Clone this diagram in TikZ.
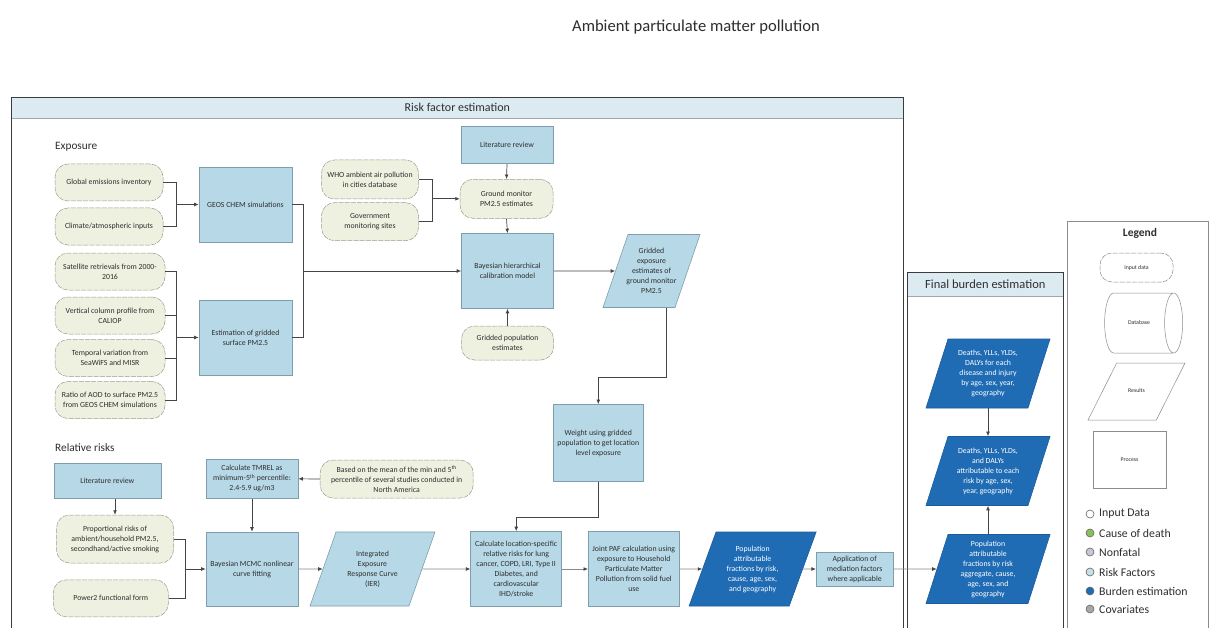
\documentclass[tikz,border=0pt]{standalone}
\usepackage{fontspec}
\setmainfont{Carlito}
\usetikzlibrary{shapes.geometric,shapes.misc,arrows.meta}

\definecolor{procfill}{HTML}{B7D9E7}
\definecolor{procline}{HTML}{7F9EAB}
\definecolor{infill}{HTML}{EEF0E0}
\definecolor{inline}{HTML}{9C9C90}
\definecolor{resfill}{HTML}{1F6CB5}
\definecolor{resline}{HTML}{1A5C9C}
\definecolor{headfill}{HTML}{DCEBF2}
\definecolor{headline}{HTML}{A0A8AC}
\definecolor{framecol}{HTML}{3C3C3C}
\definecolor{linkdark}{HTML}{454545}
\definecolor{linkgray}{HTML}{8A8A8A}
\definecolor{legline}{HTML}{8C8C8C}
\definecolor{textcol}{HTML}{2E2E2E}

% fixed-height text block for the slanted result shapes; lines may run past the box width
\newcommand{\parabody}[3]{\parbox[c][#1][c]{#2}{\centering\makebox[#2]{\begin{tabular}{@{}c@{}}#3\end{tabular}}}}

\tikzset{
  txt/.style={font=\fontsize{7.8}{10}\selectfont, align=center, inner sep=1pt, text=textcol},
  procbox/.style={txt, rectangle, draw=procline, fill=procfill, line width=0.6pt},
  inbox/.style={txt, rectangle, rounded corners=13pt, draw=inline, fill=infill, line width=0.5pt, dash pattern=on 5pt off 1.2pt},
  resbox/.style={font=\fontsize{7.8}{10}\selectfont, inner sep=0pt, text=textcol, trapezium, trapezium stretches body, trapezium left angle=#1, trapezium right angle={180-#1}, draw=procline, fill=procfill, line width=0.6pt},
  burden/.style={resbox=#1, draw=resline, fill=resfill, text=white},
  link/.style={draw=linkdark, line width=0.7pt},
  flow/.style={link, -{Latex[length=4.5pt,width=3.8pt,color=linkdark]}},
  grayflow/.style={flow, draw=linkgray},
  framedraw/.style={draw=framecol, line width=0.9pt},
  header/.style={rectangle, draw=headline, fill=headfill, line width=0.6pt, inner sep=0pt, text=textcol},
  sectitle/.style={font=\fontsize{11.3}{13}\selectfont, text=textcol, anchor=west, inner sep=0pt},
  legshape/.style={font=\fontsize{5.8}{7}\selectfont, draw=legline, fill=white, line width=0.5pt, inner sep=0pt, text=textcol},
  dot/.style={circle, minimum size=8pt, inner sep=0pt, draw=black!60, line width=0.6pt},
  legitem/.style={font=\fontsize{11.8}{13}\selectfont, text=textcol, anchor=west, inner sep=0pt},
}

\begin{document}
\begin{tikzpicture}[x=1pt, y=-1pt]
\useasboundingbox (0,0) rectangle (1214,628);
\fill[white] (0,0) rectangle (1214,628);

% title
\node[font=\fontsize{16.6}{18}\selectfont, text=textcol] (title) at (696,27) {Ambient particulate matter pollution};

% ---------- frames ----------
\node[header, font=\fontsize{12}{14}\selectfont, minimum width=892pt, minimum height=21pt, anchor=north west] (rfhead) at (11,97) {Risk factor estimation};
\draw[framedraw] (11,628) -- (11,97) -- (903,97) -- (903,628);

\node[header, font=\fontsize{12.5}{14}\selectfont, minimum width=156pt, minimum height=24pt, anchor=north west] (fbhead) at (907,272) {Final burden estimation};
\draw[framedraw] (907,628) -- (907,272) -- (1063,272) -- (1063,628);

\draw[draw=legline, line width=0.7pt] (1067,628) -- (1067,221) -- (1208,221) -- (1208,628);

% ---------- exposure ----------
\node[sectitle] (expo) at (55,147) {Exposure};

\node[inbox, minimum width=108pt, minimum height=37pt] (glob) at (109,182.5) {Global emissions inventory};
\node[inbox, minimum width=108pt, minimum height=37pt] (clim) at (109,226.5) {Climate/atmospheric inputs};
\node[procbox, minimum width=93pt, minimum height=75pt] (geos) at (245.5,204.5) {GEOS CHEM simulations};

\node[inbox, minimum width=110pt, minimum height=37pt] (sat) at (110,271.5) {Satellite retrievals from 2000-\\2016};
\node[inbox, minimum width=110pt, minimum height=37pt] (vcp) at (110,315.5) {Vertical column profile from\\CALIOP};
\node[inbox, minimum width=110pt, minimum height=37pt] (tv) at (110,358) {Temporal variation from\\SeaWiFS and MISR};
\node[inbox, minimum width=110pt, minimum height=37pt] (aod) at (110,400) {Ratio of AOD to surface PM2.5\\from GEOS CHEM simulations};
\node[procbox, minimum width=93pt, minimum height=75pt] (est) at (245.5,337.5) {Estimation of gridded\\surface PM2.5};

\node[inbox, minimum width=97pt, minimum height=39pt] (who) at (370,179.5) {WHO ambient air pollution\\in cities database};
\node[inbox, minimum width=97pt, minimum height=38pt] (gov) at (370,221.7) {Government\\monitoring sites};

\node[procbox, minimum width=92pt, minimum height=37pt] (lit1) at (507,145.3) {Literature review};
\node[inbox, minimum width=93pt, minimum height=39pt] (gm) at (506.5,198.8) {Ground monitor\\PM2.5 estimates};
\node[procbox, minimum width=92pt, minimum height=75pt] (bayes) at (507.5,271) {Bayesian hierarchical\\calibration model};
\node[inbox, minimum width=92pt, minimum height=34pt] (gpop) at (507.5,343) {Gridded population\\estimates};
\node[resbox=71.1, minimum width=97pt] (ger) at (651.5,271) {\parabody{73pt}{46pt}{Gridded\\exposure\\estimates of\\ground monitor\\PM2.5}};
\node[procbox, minimum width=90pt, minimum height=77pt] (wt) at (598.3,443) {Weight using gridded\\population to get location\\level exposure};

% ---------- relative risks ----------
\node[sectitle] (rr) at (55,448) {Relative risks};

\node[procbox, minimum width=107pt, minimum height=35pt] (litr) at (107.3,480.8) {Literature review};
\node[inbox, minimum width=117pt, minimum height=48pt] (prop) at (115,539) {Proportional risks of\\ambient/household PM2.5,\\secondhand/active smoking};
\node[inbox, minimum width=115pt, minimum height=37pt] (pow) at (110.8,598.3) {Power2 functional form};
\node[procbox, minimum width=92pt, minimum height=39pt] (tmrel) at (252,478.8) {Calculate TMREL as\\minimum-5\textsuperscript{th} percentile:\\2.4-5.9 ug/m3};
\node[inbox, minimum width=153pt, minimum height=38pt] (based) at (396.7,479) {Based on the mean of the min and 5\textsuperscript{th}\\percentile of several studies conducted in\\North America};
\node[procbox, minimum width=92pt, minimum height=74pt] (mcmc) at (252,569) {Bayesian MCMC nonlinear\\curve fitting};
\node[resbox=70.6, minimum width=125pt] (ier) at (372.5,569) {\parabody{74pt}{60pt}{Integrated\\Exposure\\Response Curve\\(IER)}};
\node[procbox, minimum width=91pt, minimum height=75pt] (cl) at (516.2,569) {Calculate location-specific\\relative risks for lung\\cancer, COPD, LRI, Type II\\Diabetes, and\\cardiovascular\\IHD/stroke};
\node[procbox, minimum width=91pt, minimum height=75pt] (jp) at (633.8,569) {Joint PAF calculation using\\exposure to Household\\Particulate Matter\\Pollution from solid fuel\\use};
\node[burden=70, minimum width=127pt] (paf) at (752.6,569) {\parabody{74pt}{62pt}{Population\\attributable\\fractions by risk,\\cause, age, sex,\\and geography}};
\node[procbox, minimum width=77pt, minimum height=34pt] (app) at (854.7,569) {Application of\\mediation factors\\where applicable};

% ---------- final burden ----------
\node[burden=72.3, minimum width=124pt] (fb1) at (988,373.5) {\parabody{69pt}{70pt}{Deaths, YLLs, YLDs,\\DALYs for each\\disease and injury\\by age, sex, year,\\geography}};
\node[burden=72.3, minimum width=124pt] (fb2) at (988,471) {\parabody{69pt}{70pt}{Deaths, YLLs, YLDs,\\and DALYs\\attributable to each\\risk by age, sex,\\year, geography}};
\node[burden=72.3, minimum width=124pt] (fb3) at (988,569) {\parabody{69pt}{70pt}{Population\\attributable\\fractions by risk\\aggregate, cause,\\age, sex, and\\geography}};

% ---------- connectors ----------
\coordinate (jA) at (176,204.5);
\draw[link] (glob.east) -| (jA);
\draw[link] (clim.east) -| (jA);
\draw[flow] (jA) -- (geos.west);

\coordinate (jB) at (176,337.5);
\draw[link] (sat.east) -| (jB);
\draw[link] (vcp.east) -| (jB);
\draw[link] (tv.east) -| (jB);
\draw[link] (aod.east) -| (jB);
\draw[flow] (jB) -- (est.west);

\coordinate (jC) at (303,271);
\draw[link] (geos.east) -| (jC);
\draw[link] (est.east) -| (jC);
\draw[flow] (jC) -- (bayes.west);

\coordinate (jD) at (432.7,198.8);
\draw[link] (who.east) -| (jD);
\draw[link] (gov.east) -| (jD);
\draw[flow] (jD) -- (gm.west);

\draw[flow] (lit1.south) -- (gm.north);
\draw[flow] (gm.south) -- (bayes.north);
\draw[flow] (gpop.north) -- (bayes.south);
\draw[flow] (bayes.east) -- (ger.west);

\coordinate (gerx) at (666.7,377.7);
\draw[flow] (ger.south -| gerx) -- (gerx) -| (wt.north);
\coordinate (wtx) at (599,517.7);
\draw[flow] (wt.south) -- (wt.south |- wtx) -| (cl.north);

\draw[flow] (litr.south -| prop.north) -- (prop.north);
\coordinate (jE) at (185,569);
\draw[link] (prop.east) -| (jE);
\draw[link] (pow.east) -| (jE);
\draw[flow] (jE) -- (mcmc.west);
\draw[flow] (based.west) -- (tmrel.east);
\draw[flow] (tmrel.south) -- (mcmc.north);

\draw[grayflow] (mcmc.east) -- (ier.west);
\draw[grayflow] (ier.east) -- (cl.west);
\draw[grayflow] (cl.east) -- (jp.west);
\draw[grayflow] (jp.east) -- (paf.west);
\draw[grayflow] (paf.east) -- (app.west);
\draw[grayflow] (app.east) -- (fb3.west);

\draw[flow] (fb1.south -| fb1.center) -- (fb2.north -| fb1.center);
\draw[flow] (fb3.north -| fb3.center) -- (fb2.south -| fb3.center);

% ---------- legend ----------
\node[font=\bfseries\fontsize{11.5}{13}\selectfont, text=textcol] (legt) at (1140,233) {Legend};
\node[legshape, rectangle, rounded corners=12pt, dash pattern=on 5pt off 1.2pt, minimum width=73pt, minimum height=29pt] (lin) at (1136.5,267.5) {Input data};
\node[legshape, cylinder, aspect=0.3, minimum height=78pt] (ldb) at (1139,323) {\parabody{60pt}{36pt}{Database}};
\node[legshape, trapezium, trapezium stretches body, trapezium left angle=63.3, trapezium right angle=116.7, minimum width=97pt] (lres) at (1136.5,391.5) {\parabody{57pt}{30pt}{Results}};
\node[legshape, rectangle, minimum width=73pt, minimum height=57pt] (lproc) at (1129.5,459.5) {Process};

\node[dot, fill=white] (d1) at (1090,514) {};
\node[legitem] (t1) at (1099,514) {Input Data};
\node[dot, fill={rgb,255:red,140;green,190;blue,90}] (d2) at (1090,533) {};
\node[legitem] (t2) at (1099,533) {Cause of death};
\node[dot, fill={rgb,255:red,205;green,196;blue,214}] (d3) at (1090,552) {};
\node[legitem] (t3) at (1099,552) {Nonfatal};
\node[dot, fill={rgb,255:red,196;green,224;blue,234}] (d4) at (1090,572) {};
\node[legitem] (t4) at (1099,572) {Risk Factors};
\node[dot, fill=resfill] (d5) at (1090,591) {};
\node[legitem] (t5) at (1099,591) {Burden estimation};
\node[dot, fill={rgb,255:red,168;green,168;blue,168}] (d6) at (1090,609) {};
\node[legitem] (t6) at (1099,609) {Covariates};

\end{tikzpicture}
\end{document}
